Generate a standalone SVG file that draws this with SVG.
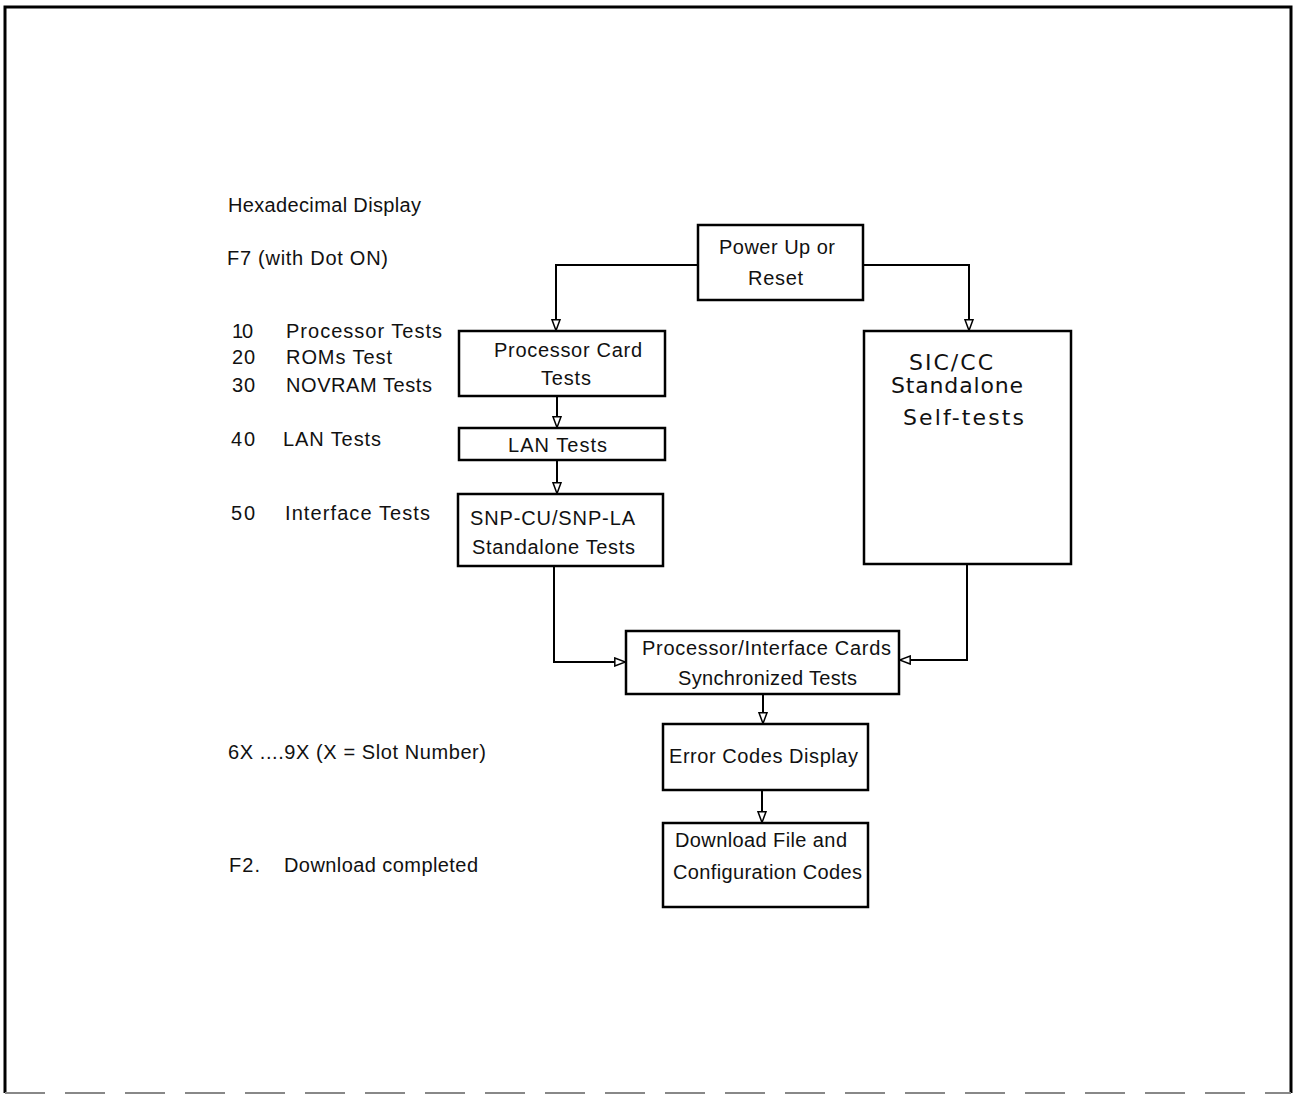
<svg xmlns="http://www.w3.org/2000/svg" width="1296" height="1095" viewBox="0 0 1296 1095">
<defs>
<style>
.bx{fill:#fff;stroke:#000;stroke-width:2.5}
.ln{fill:none;stroke:#000;stroke-width:2}
.t{font-family:"Liberation Sans",Arial,sans-serif;font-size:20px;fill:#111}
.tw{font-family:"DejaVu Sans",sans-serif;font-size:22px;fill:#111}
</style>
<marker id="ah" viewBox="0 0 12 10" refX="12" refY="5" markerWidth="12" markerHeight="10" markerUnits="userSpaceOnUse" orient="auto">
<path d="M0.8,1 L11.5,5 L0.8,9 Z" fill="#fff" stroke="#000" stroke-width="1.5"/>
</marker>
</defs>
<rect width="1296" height="1095" fill="#fff"/>
<g id="frame">
<path d="M5,1093 V7 H1291 V1093" fill="none" stroke="#000" stroke-width="3"/>
<line x1="5" y1="1093" x2="1291" y2="1093" stroke="#888" stroke-width="2" stroke-dasharray="40,20"/>
</g>
<g id="labels">
<text class="t" x="228" y="212" textLength="193" lengthAdjust="spacing">Hexadecimal Display</text>
<text class="t" x="227" y="265" textLength="161" lengthAdjust="spacing">F7 (with Dot ON)</text>
<text class="t" x="232" y="338" textLength="21" lengthAdjust="spacing">10</text><text class="t" x="286" y="338" textLength="156" lengthAdjust="spacing">Processor Tests</text>
<text class="t" x="232" y="364" textLength="23" lengthAdjust="spacing">20</text><text class="t" x="286" y="364" textLength="106" lengthAdjust="spacing">ROMs Test</text>
<text class="t" x="232" y="392" textLength="23" lengthAdjust="spacing">30</text><text class="t" x="286" y="392" textLength="146" lengthAdjust="spacing">NOVRAM Tests</text>
<text class="t" x="231" y="446" textLength="24" lengthAdjust="spacing">40</text><text class="t" x="283" y="446" textLength="98" lengthAdjust="spacing">LAN Tests</text>
<text class="t" x="231" y="520" textLength="24" lengthAdjust="spacing">50</text><text class="t" x="285" y="520" textLength="145" lengthAdjust="spacing">Interface Tests</text>
<text class="t" x="228" y="759" textLength="258" lengthAdjust="spacing">6X ....9X (X = Slot Number)</text>
<text class="t" x="229" y="872" textLength="31" lengthAdjust="spacing">F2.</text><text class="t" x="284" y="872" textLength="194" lengthAdjust="spacing">Download completed</text>
</g>
<g id="connectors">
<path class="ln" d="M698,265 H556 V331" marker-end="url(#ah)"/>
<path class="ln" d="M863,265 H969 V331" marker-end="url(#ah)"/>
<path class="ln" d="M557,396 V428" marker-end="url(#ah)"/>
<path class="ln" d="M557,460 V494" marker-end="url(#ah)"/>
<path class="ln" d="M554,566 V662 H626" marker-end="url(#ah)"/>
<path class="ln" d="M967,564 V660 H899" marker-end="url(#ah)"/>
<path class="ln" d="M763,694 V724" marker-end="url(#ah)"/>
<path class="ln" d="M762,790 V823" marker-end="url(#ah)"/>
</g>
<g id="power">
<rect class="bx" x="698" y="225" width="165" height="75"/>
<text class="t" x="719" y="254" textLength="116" lengthAdjust="spacing">Power Up or</text>
<text class="t" x="748" y="285" textLength="55" lengthAdjust="spacing">Reset</text>
</g>
<g id="proc">
<rect class="bx" x="459" y="331" width="206" height="65"/>
<text class="t" x="494" y="357" textLength="148" lengthAdjust="spacing">Processor Card</text>
<text class="t" x="541" y="385" textLength="50" lengthAdjust="spacing">Tests</text>
</g>
<g id="lan">
<rect class="bx" x="459" y="428" width="206" height="32"/>
<text class="t" x="508" y="452" textLength="99" lengthAdjust="spacing">LAN Tests</text>
</g>
<g id="snp">
<rect class="bx" x="458" y="494" width="205" height="72"/>
<text class="t" x="470" y="525" textLength="165" lengthAdjust="spacing">SNP-CU/SNP-LA</text>
<text class="t" x="472" y="554" textLength="163" lengthAdjust="spacing">Standalone Tests</text>
</g>
<g id="sic">
<rect class="bx" x="864" y="331" width="207" height="233"/>
<text class="tw" x="909" y="370" textLength="84" lengthAdjust="spacing">SIC/CC</text>
<text class="tw" x="891" y="393" textLength="132" lengthAdjust="spacing">Standalone</text>
<text class="tw" x="903" y="425" textLength="121" lengthAdjust="spacing">Self-tests</text>
</g>
<g id="sync">
<rect class="bx" x="626" y="631" width="273" height="63"/>
<text class="t" x="642" y="655" textLength="249" lengthAdjust="spacing">Processor/Interface Cards</text>
<text class="t" x="678" y="685" textLength="179" lengthAdjust="spacing">Synchronized Tests</text>
</g>
<g id="error">
<rect class="bx" x="663" y="724" width="205" height="66"/>
<text class="t" x="669" y="763" textLength="189" lengthAdjust="spacing">Error Codes Display</text>
</g>
<g id="download">
<rect class="bx" x="663" y="823" width="205" height="84"/>
<text class="t" x="675" y="847" textLength="172" lengthAdjust="spacing">Download File and</text>
<text class="t" x="673" y="879" textLength="189" lengthAdjust="spacing">Configuration Codes</text>
</g>
</svg>
